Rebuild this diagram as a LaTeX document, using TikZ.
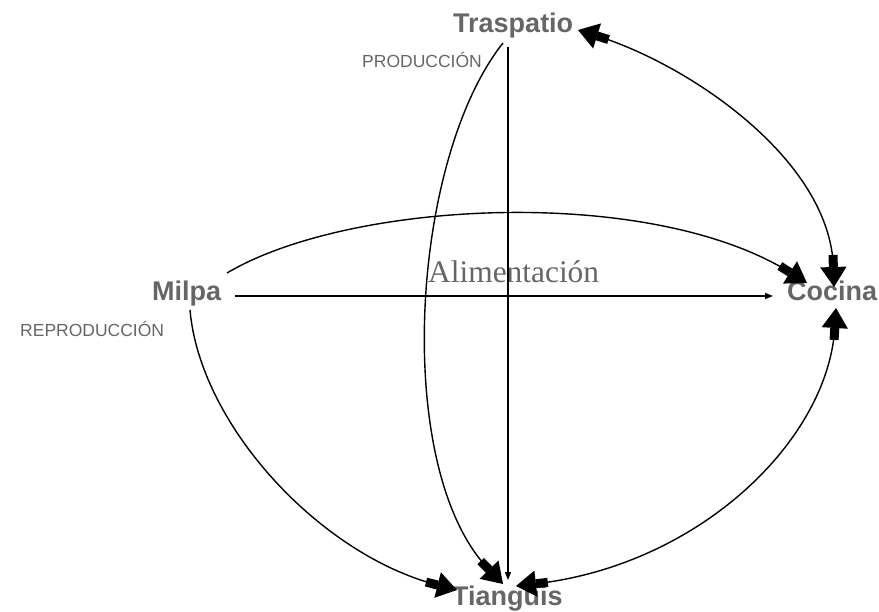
\documentclass[tikz,border=0pt]{standalone}
\usepackage{fontspec}
\setmainfont{Liberation Sans}
\newfontfamily\serifA{Liberation Serif}
\usetikzlibrary{arrows.meta}
\definecolor{txtgray}{HTML}{666666}
\tikzset{
  place/.style={inner sep=0pt, text=txtgray, font=\fontsize{27}{27}\selectfont\bfseries},
  lab/.style={inner sep=0pt, text=txtgray, font=\fontsize{17.5}{17.5}\selectfont},
  bigtip/.style={-{Rectangle[length=12pt,width=9pt,sep=0pt]Triangle[length=20pt,width=26pt,sep=0pt]}},
  bigboth/.style={{Triangle[length=20pt,width=26pt,sep=0pt]Rectangle[length=12pt,width=9pt,sep=0pt]}-{Rectangle[length=12pt,width=9pt,sep=0pt]Triangle[length=20pt,width=26pt,sep=0pt]}},
  smalltip/.style={-{Triangle[length=8pt,width=6pt]}},
  conn/.style={line width=1.4pt, black}
}
\begin{document}
\begin{tikzpicture}[x=1pt,y=-1pt]
\useasboundingbox (0,0) rectangle (879,612);
% nodes
\node[place, anchor=base west] (tra) at (453,33) {Traspatio};
\node[place, anchor=base west] (mil) at (152,301) {Milpa};
\node[place, anchor=base west] (coc) at (787,301) {Cocina};
\node[place, anchor=base west] (tia) at (452,605) {Tianguis};
\node[lab, anchor=base east] (prod) at (482,68) {PRODUCCIÓN};
\node[lab, anchor=base west] (rep) at (20,337) {REPRODUCCIÓN};
\node[inner sep=0pt, text=txtgray, font=\serifA\fontsize{31.4}{31.4}\selectfont, anchor=base west] (ali) at (428,283) {Alimentación};
% connector end points
\coordinate (tra-v) at (508,47);
\coordinate (tia-v) at (508,580);
\coordinate (mil-h) at (235,296);
\coordinate (coc-h) at (773,296);
\coordinate (tra-c) at (503,43);
\coordinate (tia-c) at (503,584);
\coordinate (mil-c) at (227,273);
\coordinate (coc-m) at (807,283);
\coordinate (mil-t) at (190,310);
\coordinate (tia-m) at (457,590);
\coordinate (tra-k) at (578,30);
\coordinate (coc-k) at (834,287);
\coordinate (tia-k) at (516,586);
\coordinate (coc-t) at (836,308);
% connectors
\draw[conn, smalltip] (tra-v) -- (tia-v);
\draw[conn, smalltip] (mil-h) -- (coc-h);
\draw[conn, bigtip] (tra-c) .. controls (410,160) and (392,470) .. (tia-c);
\draw[conn, bigtip] (mil-c) .. controls (350,200) and (650,185) .. (coc-m);
\draw[conn, bigtip] (mil-t) .. controls (200,425) and (320,555) .. (tia-m);
\draw[conn, bigboth] (tra-k) .. controls (690,65) and (830,160) .. (coc-k);
\draw[conn, bigboth] (tia-k) .. controls (700,565) and (828,440) .. (coc-t);
\end{tikzpicture}
\end{document}
